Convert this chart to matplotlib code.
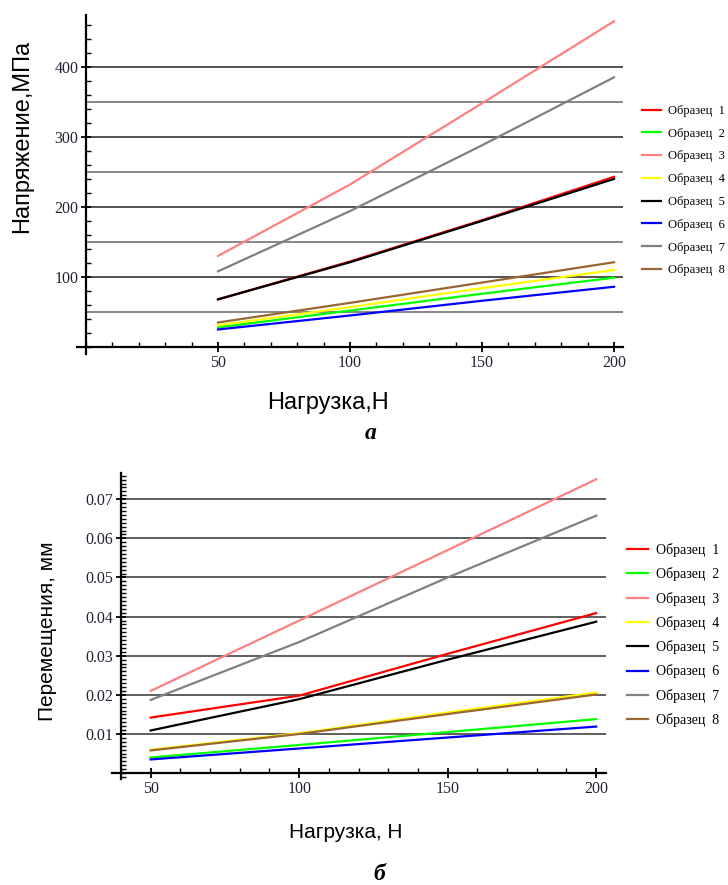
import matplotlib.pyplot as plt
from matplotlib.ticker import MultipleLocator, FixedLocator

# Data
load = [50, 100, 150, 200]
labels = ['Образец  1', 'Образец  2', 'Образец  3', 'Образец  4',
          'Образец  5', 'Образец  6', 'Образец  7', 'Образец  8']
colors = ['#ff0000', '#00ff00', '#ff8080', '#ffff00',
          '#000000', '#0000ff', '#808080', '#996633']

# (a) stress, MPa
stress_1 = [68, 122, 181, 243]
stress_2 = [28, 52, 76, 99]
stress_3 = [130, 232, 348, 465]
stress_4 = [31, 57, 84, 110]
stress_5 = [68, 121, 180, 240]
stress_6 = [25, 45, 66, 86]
stress_7 = [108, 194, 288, 385]
stress_8 = [35, 63, 92, 121]

# (б) displacement, mm
disp_1 = [0.0142, 0.0198, 0.0305, 0.0409]
disp_2 = [0.0040, 0.0072, 0.0105, 0.0138]
disp_3 = [0.0210, 0.0390, 0.0570, 0.0751]
disp_4 = [0.0060, 0.0102, 0.0155, 0.0206]
disp_5 = [0.0109, 0.0189, 0.0290, 0.0387]
disp_6 = [0.0035, 0.0063, 0.0091, 0.0119]
disp_7 = [0.0187, 0.0335, 0.0500, 0.0658]
disp_8 = [0.0058, 0.0100, 0.0151, 0.0201]

stress = [stress_1, stress_2, stress_3, stress_4, stress_5, stress_6, stress_7, stress_8]
disp = [disp_1, disp_2, disp_3, disp_4, disp_5, disp_6, disp_7, disp_8]

W, H = 728, 885
fig = plt.figure(figsize=(W / 100, H / 100), dpi=100)
serif = 'Liberation Serif'
sans = 'Liberation Sans'


def px_axes(l, t, r, b):
    return fig.add_axes([l / W, 1 - b / H, (r - l) / W, (b - t) / H])


def style_axes(ax, y0, x0):
    for s in ['top', 'right']:
        ax.spines[s].set_visible(False)
    ax.spines['left'].set_position(('data', x0))
    ax.spines['bottom'].set_position(('data', y0))
    ax.spines['left'].set_linewidth(1.6)
    ax.spines['bottom'].set_linewidth(1.6)
    ax.tick_params(which='major', direction='inout', length=7, width=1.3,
                   labelsize=11.5, labelcolor='#222233', pad=2)
    ax.tick_params(which='minor', direction='in', length=3.5, width=1.0)
    for t in ax.get_xticklabels() + ax.get_yticklabels():
        t.set_fontfamily(serif)


# ---------- (a) ----------
ax1 = px_axes(77, 15, 623, 354)
ax1.set_xlim(-3.4, 203.4)
ax1.set_ylim(-10, 474)
grid_a = [50, 100, 150, 200, 250, 300, 350, 400]
for g in grid_a:
    ax1.hlines(g, 0, 203.4, color='#222222' if g % 100 == 0 else '#666666',
               lw=1.1, zorder=1)
for y, c, lab in zip(stress, colors, labels):
    ax1.plot(load, y, color=c, lw=1.6, label=lab, zorder=3)
ax1.xaxis.set_major_locator(FixedLocator([50, 100, 150, 200]))
ax1.xaxis.set_minor_locator(MultipleLocator(10))
ax1.yaxis.set_major_locator(FixedLocator([100, 200, 300, 400]))
ax1.yaxis.set_minor_locator(MultipleLocator(20))
style_axes(ax1, 0, 0)
ax1.legend(loc='upper left', bbox_to_anchor=(642 / W, 1 - 105 / H),
           bbox_transform=fig.transFigure, frameon=False, borderpad=0,
           borderaxespad=0, handlelength=1.5, handletextpad=0.6,
           labelspacing=0.86, prop={'family': serif, 'size': 9})

fig.text(328 / W, 1 - 403 / H, 'Нагрузка,Н', family=sans, fontsize=17,
         ha='center', va='center')
fig.text(22 / W, 1 - 136 / H, 'Напряжение,МПа', family=sans, fontsize=17,
         ha='center', va='center', rotation=90)
fig.text(371 / W, 1 - 434 / H, 'а', family=serif, fontsize=17,
         fontweight='bold', fontstyle='italic', ha='center', va='center')

# ---------- (б) ----------
ax2 = px_axes(112, 473, 606, 779)
ax2.set_xlim(37, 203.3)
ax2.set_ylim(-0.0015, 0.0767)
grid_b = [0.01, 0.02, 0.03, 0.04, 0.05, 0.06, 0.07]
for g in grid_b:
    ax2.hlines(g, 40, 203.3, color='#333333', lw=1.1, zorder=1)
for y, c, lab in zip(disp, colors, labels):
    ax2.plot(load, y, color=c, lw=1.6, label=lab, zorder=3)
ax2.xaxis.set_major_locator(FixedLocator([50, 100, 150, 200]))
ax2.xaxis.set_minor_locator(MultipleLocator(10))
ax2.yaxis.set_major_locator(FixedLocator(grid_b))
ax2.yaxis.set_minor_locator(MultipleLocator(0.001))
ax2.set_yticklabels(['0.01', '0.02', '0.03', '0.04', '0.05', '0.06', '0.07'])
style_axes(ax2, 0, 40)
ax2.legend(loc='upper left', bbox_to_anchor=(627 / W, 1 - 543 / H),
           bbox_transform=fig.transFigure, frameon=False, borderpad=0,
           borderaxespad=0, handlelength=1.5, handletextpad=0.6,
           labelspacing=0.74, prop={'family': serif, 'size': 10})

fig.text(346 / W, 1 - 833 / H, 'Нагрузка, Н', family=sans, fontsize=15,
         ha='center', va='center')
fig.text(48 / W, 1 - 631 / H, 'Перемещения, мм', family=sans, fontsize=15,
         ha='center', va='center', rotation=90)
fig.text(379 / W, 1 - 875 / H, 'б', family=serif, fontsize=17,
         fontweight='bold', fontstyle='italic', ha='center', va='center')

fig.savefig('out.png', dpi=100)
